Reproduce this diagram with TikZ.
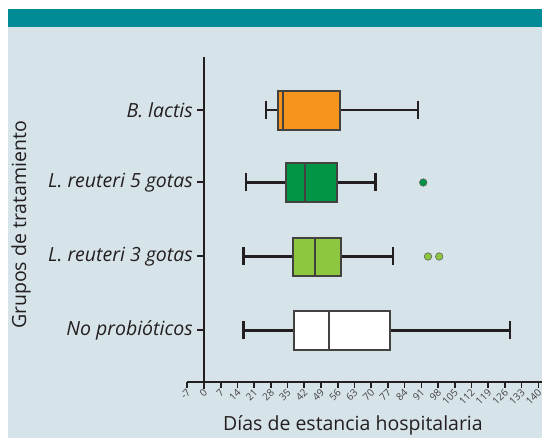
\documentclass[tikz,border=0pt]{standalone}
\usepackage{fontspec}
\setmainfont{Open Sans}
\usepackage{tikz}
\definecolor{banner}{RGB}{0,139,150}
\definecolor{panel}{RGB}{214,227,232}
\definecolor{lactis}{RGB}{247,148,30}
\definecolor{gotas5}{RGB}{0,148,68}
\definecolor{gotas3}{RGB}{141,198,63}
\definecolor{ink}{RGB}{35,31,32}
\tikzstyle{axis}=[draw=ink,line width=2pt]
\tikzstyle{whisker}=[draw=ink,line width=2.2pt]
\tikzstyle{box}=[draw=ink!85,line width=2pt]
\tikzstyle{outlier}=[circle,draw=ink!70,line width=0.6pt,minimum size=7.5pt,inner sep=0pt]
\tikzstyle{ticklabel}=[rotate=45,anchor=east,inner sep=0.5pt,text=ink!85,font=\fontsize{10}{10}\selectfont]
\tikzstyle{group}=[anchor=east,inner sep=0pt,text=ink,font=\fontsize{19.5}{21}\selectfont\itshape]
\tikzstyle{title}=[text=ink,inner sep=0pt,font=\fontsize{19.5}{21}\selectfont]

\begin{document}
\begin{tikzpicture}[x=1pt,y=-1pt]
\useasboundingbox (0,0) rectangle (542,438);
\fill[white] (0,0) rectangle (542,438);
\fill[panel] (8,9) rectangle (542,438);
\fill[banner] (8,9) rectangle (542,27.5);
\draw[axis] (204,57) -- (204,389);
\draw[axis] (187,382) -- (542,382);
% group labels
\node[group] at (193,110) (bl) {B. lactis};
\node[group] at (193,182.5) (l5) {L. reuteri 5 gotas};
\node[group] at (193,256.5) (l3) {L. reuteri 3 gotas};
\node[group] at (193,330.5) (np) {No probióticos};
\draw[axis] (bl.east) ++(4,0) -- (204,110);
\draw[axis] (l5.east) ++(4,0) -- (204,182.5);
\draw[axis] (l3.east) ++(4,0) -- (204,256.5);
\draw[axis] (np.east) ++(4,0) -- (204,330.5);
\node[title,rotate=90] at (21,225) (ytitle) {Grupos de tratamiento};
\node[title] at (353,425) (xtitle) {Días de estancia hospitalaria};
\begin{scope}[shift={(204,0)},x=2.388pt]
% ticks
\foreach \d in {-7,0,...,140} {
  \draw[axis,line width=1.6pt] (\d,382) -- (\d,388);
  \node[ticklabel] at (\d+0.8,390) (t\d) {\d};
}
% B. lactis
\draw[whisker] (26,110) -- (31,110);
\draw[whisker] (57,110) -- (89.5,110);
\draw[whisker] (26,101) -- (26,119);
\draw[whisker] (89.5,101) -- (89.5,119);
\draw[box,fill=lactis] (31,91.5) rectangle (57,130);
\draw[box] (33,91.5) -- (33,130);
% L. reuteri 5 gotas
\draw[whisker] (17.5,182.5) -- (34.5,182.5);
\draw[whisker] (55.5,182.5) -- (71.8,182.5);
\draw[whisker] (17.5,173.5) -- (17.5,191.5);
\draw[whisker] (71.8,173.5) -- (71.8,191.5);
\draw[box,fill=gotas5] (34.5,163.5) rectangle (55.5,202);
\draw[box] (42.2,163.5) -- (42.2,202);
\node[outlier,fill=gotas5] at (91.8,182.5) (o5) {};
% L. reuteri 3 gotas
\draw[whisker] (16.5,256.5) -- (37.2,256.5);
\draw[whisker] (57.4,256.5) -- (79.2,256.5);
\draw[whisker] (16.5,247.5) -- (16.5,265.5);
\draw[whisker] (79.2,247.5) -- (79.2,265.5);
\draw[box,fill=gotas3] (37.2,238) rectangle (57.4,276.5);
\draw[box] (46.4,238) -- (46.4,276.5);
\node[outlier,fill=gotas3] at (93.8,256.5) (o3a) {};
\node[outlier,fill=gotas3] at (98.5,256.5) (o3b) {};
% No probioticos
\draw[whisker] (16.5,330.5) -- (37.6,330.5);
\draw[whisker] (78,330.5) -- (128.2,330.5);
\draw[whisker] (16.5,321.5) -- (16.5,339.5);
\draw[whisker] (128.2,321.5) -- (128.2,339.5);
\draw[box,fill=white] (37.6,311.5) rectangle (78,350);
\draw[box] (52.4,311.5) -- (52.4,350);
\end{scope}
\end{tikzpicture}
\end{document}
